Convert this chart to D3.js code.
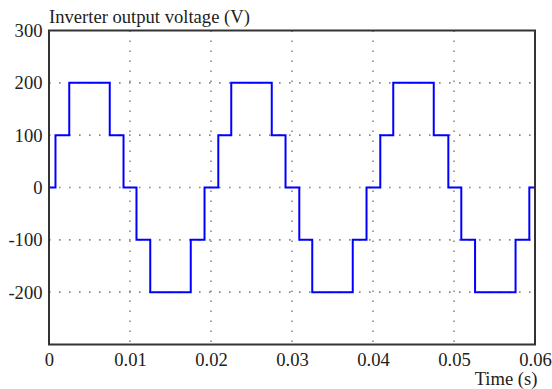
<!DOCTYPE html>
<html>
<head>
<meta charset="utf-8">
<script src="https://cdn.jsdelivr.net/npm/d3@7"></script>
<style>
  html, body { margin: 0; padding: 0; background: #fff; }
  svg { display: block; }
  svg text { font-family: "Liberation Serif", "Times New Roman", serif !important; fill: #222; }
</style>
</head>
<body>
<script>
// Step transition times (s) and the voltage held after each time (V)
const times = [0, 0.0008, 0.0025, 0.0075, 0.0092, 0.0108, 0.0125, 0.0175, 0.0192,
               0.0209, 0.0225, 0.0275, 0.0292, 0.0309, 0.0325, 0.0375, 0.0392,
               0.0409, 0.0425, 0.0475, 0.0493, 0.0509, 0.0526, 0.0576, 0.0593, 0.06];
const volts = [0, 100, 200, 100, 0, -100, -200, -100, 0,
               100, 200, 100, 0, -100, -200, -100, 0,
               100, 200, 100, 0, -100, -200, -100, 0, 0];
const xTicks = [0, 0.01, 0.02, 0.03, 0.04, 0.05, 0.06];
const xTickLabels = ["0", "0.01", "0.02", "0.03", "0.04", "0.05", "0.06"];
const yTicks = [-200, -100, 0, 100, 200, 300];
const yTickLabels = ["-200", "-100", "0", "100", "200", "300"];
const title = "Inverter output voltage (V)";
const xTitle = "Time (s)";

const W = 552, H = 389;
const m = { left: 49, right: 17, top: 30.5, bottom: 44.5 };
const iw = W - m.left - m.right, ih = H - m.top - m.bottom;
const FS = "18.6px";
const FF = '"Liberation Serif", "Times New Roman", serif';

const svg = d3.select("body").append("svg").attr("width", W).attr("height", H);
const g = svg.append("g").attr("transform", `translate(${m.left},${m.top})`);

const x = d3.scaleLinear().domain([0, 0.06]).range([0, iw]);
const y = d3.scaleLinear().domain([-300, 300]).range([ih, 0]);

// grid
const gridX = xTicks.filter(t => t > 0 && t < 0.06);
const gridY = [-200, -100, 0, 100, 200];
g.append("g").selectAll("line").data(gridX).join("line")
  .attr("x1", d => x(d)).attr("x2", d => x(d))
  .attr("y1", 0).attr("y2", ih)
  .attr("stroke", "#888").attr("stroke-width", 1.6)
  .attr("stroke-dasharray", "1.6,8.4");
g.append("g").selectAll("line").data(gridY).join("line")
  .attr("x1", 0).attr("x2", iw)
  .attr("y1", d => y(d)).attr("y2", d => y(d))
  .attr("stroke", "#888").attr("stroke-width", 1.6)
  .attr("stroke-dasharray", "1.6,8.4");

// axes (labels only)
const xAxis = d3.axisBottom(x).tickValues(xTicks)
  .tickFormat((d, i) => xTickLabels[i]).tickSize(0).tickPadding(8.5);
const xa = g.append("g").attr("transform", `translate(0,${ih})`).call(xAxis)
  .attr("font-family", FF).attr("font-size", FS);
xa.select(".domain").remove();
xa.selectAll("text").attr("fill", "#222");

const yAxis = d3.axisLeft(y).tickValues(yTicks)
  .tickFormat((d, i) => yTickLabels[i]).tickSize(0).tickPadding(6.5);
const ya = g.append("g").call(yAxis)
  .attr("font-family", FF).attr("font-size", FS);
ya.select(".domain").remove();
ya.selectAll("text").attr("fill", "#222");

// waveform
const line = d3.line().x(d => x(d[0])).y(d => y(d[1])).curve(d3.curveStepAfter);
g.append("path").datum(times.map((t, i) => [t, volts[i]]))
  .attr("d", line).attr("fill", "none")
  .attr("stroke", "#0000ff").attr("stroke-width", 2);

// frame
g.append("rect").attr("x", 0).attr("y", 0).attr("width", iw).attr("height", ih)
  .attr("fill", "none").attr("stroke", "#333").attr("stroke-width", 2);

// titles
svg.append("text").attr("x", m.left).attr("y", 23.3)
  .attr("font-family", FF).attr("font-size", FS).text(title);
svg.append("text").attr("x", 537.5).attr("y", 385)
  .attr("text-anchor", "end").attr("font-family", FF).attr("font-size", FS).text(xTitle);
</script>
</body>
</html>
